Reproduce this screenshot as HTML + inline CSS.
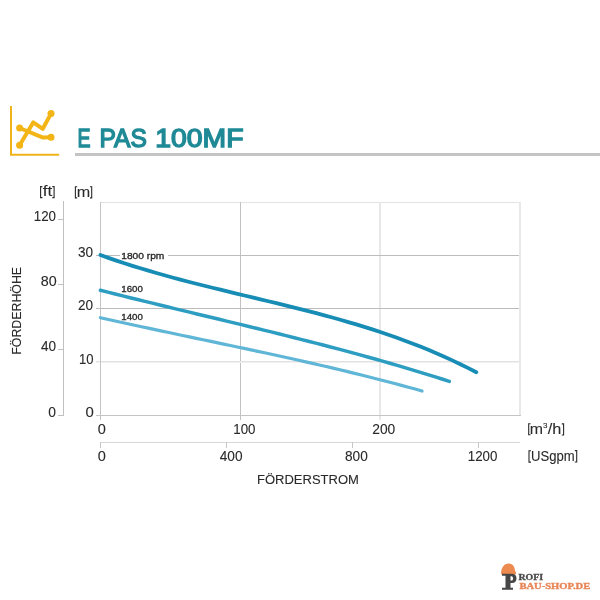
<!DOCTYPE html>
<html><head><meta charset="utf-8">
<style>
html,body{margin:0;padding:0;background:#fff;width:600px;height:600px;overflow:hidden;}
svg{position:absolute;left:0;top:0;will-change:transform;}
text{font-family:"Liberation Sans",sans-serif;}
</style></head><body>
<svg width="600" height="600" viewBox="0 0 600 600">
<g>
<g stroke="#F0B41A" fill="none" stroke-width="2" stroke-linejoin="miter">
<path d="M11 106 V154.7 H59.2"/>
</g>
<g stroke="#F3B515" fill="none" stroke-width="4" stroke-linejoin="round">
<path d="M19.6 145.2 L33.2 122.4 L42.8 128.8 L51 113.6"/>
<path d="M19.6 128 L43 137.6 L51 137.2"/>
</g>
<g fill="#F3B515">
<circle cx="19.6" cy="128" r="3.5"/><circle cx="19.6" cy="145.2" r="3.5"/>
<circle cx="51" cy="113.6" r="3.5"/><circle cx="51" cy="137.2" r="3.5"/>
</g>
<rect x="75" y="153" width="525" height="3" fill="#c4c4c4"/>
<g shape-rendering="crispEdges">
<rect x="100" y="202" width="420" height="1" fill="#e3e3e3"/>
<rect x="519" y="202" width="2" height="214" fill="#e8e8e8"/>
<rect x="379" y="202" width="2" height="218" fill="#e8e8e8"/>
<rect x="240" y="202" width="1" height="218" fill="#c2c2c2"/>
<rect x="96" y="255" width="423" height="1" fill="#bdbdbd"/>
<rect x="96" y="308" width="423" height="1" fill="#bcbcbc"/>
<rect x="96" y="361" width="423" height="1" fill="#e2e2e2"/>
<rect x="96" y="362" width="423" height="1" fill="#f0f0f0"/>
<rect x="96" y="415" width="425" height="1" fill="#c4c4c4"/>
<rect x="100" y="202" width="1" height="218" fill="#c4c4c4"/>
<rect x="63" y="201" width="1" height="215" fill="#c0c0c0"/>
<rect x="58" y="219" width="5" height="1" fill="#c0c0c0"/>
<rect x="58" y="284" width="5" height="1" fill="#c0c0c0"/>
<rect x="58" y="349" width="5" height="1" fill="#c0c0c0"/>
<rect x="58" y="415" width="5" height="1" fill="#c0c0c0"/>
<rect x="100" y="442" width="420" height="1" fill="#d8d8d8"/>
<rect x="100" y="442" width="1" height="6" fill="#c8c8c8"/>
<rect x="226" y="442" width="1" height="6" fill="#c8c8c8"/>
<rect x="352" y="442" width="1" height="6" fill="#c8c8c8"/>
<rect x="478" y="442" width="1" height="6" fill="#c8c8c8"/>
</g>
<rect x="120" y="250" width="48" height="11" fill="#fff"/>
<g fill="none" stroke-linecap="round" stroke-linejoin="round" transform="translate(0 0.3)">
<path d="M100.4 254.75 L108.4 257.59 L116.4 260.32 L124.4 262.97 L132.4 265.52 L140.4 268.00 L148.4 270.39 L156.4 272.72 L164.4 274.98 L172.4 277.17 L180.4 279.32 L188.4 281.42 L196.4 283.47 L204.4 285.48 L212.4 287.47 L220.4 289.42 L228.4 291.36 L236.4 293.28 L244.4 295.19 L252.4 297.10 L260.4 299.01 L268.4 300.93 L276.4 302.86 L284.4 304.81 L292.3 306.79 L300.3 308.79 L308.3 310.83 L316.3 312.91 L324.3 315.04 L332.3 317.22 L340.3 319.46 L348.3 321.77 L356.3 324.14 L364.3 326.59 L372.3 329.12 L380.3 331.73 L388.3 334.44 L396.3 337.24 L404.3 340.15 L412.3 343.17 L420.3 346.30 L428.3 349.56 L436.3 352.93 L444.3 356.44 L452.3 360.09 L460.3 363.88 L468.3 367.82 L476.3 371.91" stroke="#178CB4" stroke-width="3.8"/>
<path d="M100.4 289.91 L107.8 291.80 L115.2 293.68 L122.7 295.54 L130.1 297.39 L137.5 299.22 L144.9 301.05 L152.4 302.87 L159.8 304.68 L167.2 306.48 L174.6 308.28 L182.1 310.07 L189.5 311.86 L196.9 313.64 L204.3 315.43 L211.8 317.21 L219.2 319.00 L226.6 320.79 L234.0 322.58 L241.4 324.37 L248.9 326.17 L256.3 327.98 L263.7 329.80 L271.1 331.62 L278.6 333.46 L286.0 335.30 L293.4 337.16 L300.8 339.03 L308.3 340.92 L315.7 342.82 L323.1 344.74 L330.5 346.68 L337.9 348.63 L345.4 350.61 L352.8 352.61 L360.2 354.63 L367.6 356.68 L375.1 358.75 L382.5 360.84 L389.9 362.97 L397.3 365.12 L404.8 367.30 L412.2 369.52 L419.6 371.76 L427.0 374.04 L434.5 376.35 L441.9 378.70 L449.3 381.08" stroke="#2E9DC2" stroke-width="3.5"/>
<path d="M100.4 317.39 L107.2 318.92 L114.1 320.44 L120.9 321.95 L127.8 323.45 L134.6 324.94 L141.5 326.41 L148.3 327.88 L155.1 329.34 L162.0 330.80 L168.8 332.25 L175.7 333.69 L182.5 335.14 L189.4 336.58 L196.2 338.01 L203.0 339.45 L209.9 340.88 L216.7 342.32 L223.6 343.76 L230.4 345.20 L237.3 346.65 L244.1 348.10 L250.9 349.56 L257.8 351.02 L264.6 352.49 L271.5 353.98 L278.3 355.47 L285.1 356.97 L292.0 358.48 L298.8 360.00 L305.7 361.54 L312.5 363.10 L319.4 364.66 L326.2 366.25 L333.0 367.85 L339.9 369.47 L346.7 371.11 L353.6 372.77 L360.4 374.45 L367.3 376.15 L374.1 377.88 L380.9 379.63 L387.8 381.40 L394.6 383.21 L401.5 385.03 L408.3 386.89 L415.2 388.77 L422.0 390.69" stroke="#60B6D6" stroke-width="3.2"/>
</g>
<path fill="#EC8A50" d="M501 574.3 C501 567 504.5 563.4 508.5 563.4 C512.5 563.4 515 566.5 515 571 L516 572.3 V574.3 Z"/>
<path fill="#464646" fill-rule="evenodd" d="M502 573.8 H512 C515 573.8 516.5 575.8 516.5 578.4 C516.5 581 515 583 512 583 H510.5 V587.7 H513 V589.7 H502 V587.7 H505.5 V575.8 H502 Z M510.5 576.2 V580.6 H511.5 C512.6 580.6 513 579.6 513 578.4 C513 577.2 512.6 576.2 511.5 576.2 Z"/>
</g>
<g fill="none" stroke="#2a2a2a" stroke-width="1.1" stroke-linejoin="miter">
<path d="M42.4 186.6 H40.6 V197.6 H42.4"/>
<path d="M52.3 186.6 H54.1 V197.6 H52.3"/>
<path d="M77.2 186.8 H75.4 V197.9 H77.2"/>
<path d="M90 186.8 H91.7 V197.9 H90"/>
<path d="M530.5 423.7 H528.7 V434.8 H530.5"/>
<path d="M561.8 423.9 H563.6 V435 H561.8"/>
<path d="M531 450.7 H529 V462.1 H531"/>
<path d="M574.8 450.6 H576.7 V462 H574.8"/>
</g>
<g fill="#2a2a2a" stroke="#2a2a2a" stroke-width="0.1">
<text x="77.50" y="146.85" font-size="25.90" textLength="13.01" lengthAdjust="spacingAndGlyphs" fill="#1F8A96" stroke="#1F8A96" stroke-width="1.4">E</text>
<text x="99.50" y="146.60" font-size="25.90" textLength="47.42" lengthAdjust="spacingAndGlyphs" fill="#1F8A96" stroke="#1F8A96" stroke-width="1.4">PAS</text>
<text x="155.25" y="146.60" font-size="25.90" textLength="88.22" lengthAdjust="spacingAndGlyphs" fill="#1F8A96" stroke="#1F8A96" stroke-width="1.4">100MF</text>
<text x="42.70" y="196.25" font-size="13.80" textLength="9.52" lengthAdjust="spacingAndGlyphs">ft</text>
<text x="76.80" y="196.95" font-size="13.80" textLength="13.47" lengthAdjust="spacingAndGlyphs">m</text>
<text x="33.75" y="220.50" font-size="13.80" textLength="22.24" lengthAdjust="spacingAndGlyphs">120</text>
<text x="40.75" y="286.00" font-size="13.80" textLength="15.91" lengthAdjust="spacingAndGlyphs">80</text>
<text x="41.00" y="351.30" font-size="13.80" textLength="15.09" lengthAdjust="spacingAndGlyphs">40</text>
<text x="48.25" y="416.80" font-size="13.80" textLength="7.70" lengthAdjust="spacingAndGlyphs">0</text>
<text x="78.00" y="256.70" font-size="13.80" textLength="15.11" lengthAdjust="spacingAndGlyphs">30</text>
<text x="78.00" y="310.00" font-size="13.80" textLength="15.09" lengthAdjust="spacingAndGlyphs">20</text>
<text x="79.00" y="363.70" font-size="13.80" textLength="14.52" lengthAdjust="spacingAndGlyphs">10</text>
<text x="85.50" y="416.80" font-size="13.80" textLength="8.32" lengthAdjust="spacingAndGlyphs">0</text>
<text x="97.75" y="434.00" font-size="13.80" textLength="8.11" lengthAdjust="spacingAndGlyphs">0</text>
<text x="233.25" y="433.75" font-size="13.80" textLength="22.24" lengthAdjust="spacingAndGlyphs">100</text>
<text x="372.25" y="433.75" font-size="13.80" textLength="23.04" lengthAdjust="spacingAndGlyphs">200</text>
<text x="97.75" y="460.70" font-size="13.80" textLength="8.11" lengthAdjust="spacingAndGlyphs">0</text>
<text x="219.75" y="460.70" font-size="13.80" textLength="22.77" lengthAdjust="spacingAndGlyphs">400</text>
<text x="345.00" y="460.70" font-size="13.80" textLength="22.78" lengthAdjust="spacingAndGlyphs">800</text>
<text x="467.75" y="460.95" font-size="13.80" textLength="29.66" lengthAdjust="spacingAndGlyphs">1200</text>
<text x="529.80" y="433.90" font-size="14.00" textLength="13.26" lengthAdjust="spacingAndGlyphs">m</text>
<text x="542.95" y="427.70" font-size="7.74" textLength="4.47" lengthAdjust="spacingAndGlyphs">3</text>
<text x="547.80" y="434.00" font-size="14.00" textLength="13.61" lengthAdjust="spacingAndGlyphs">/h</text>
<text x="531.10" y="460.50" font-size="14.00" textLength="43.62" lengthAdjust="spacingAndGlyphs">USgpm</text>
<text x="257.00" y="483.80" font-size="13.60" textLength="101.90" lengthAdjust="spacingAndGlyphs">FÖRDERSTROM</text>
<text transform="translate(21.30 354.70) rotate(-90)" font-size="13.60" textLength="87.75" lengthAdjust="spacingAndGlyphs">FÖRDERHÖHE</text>
<text x="121.25" y="258.70" font-size="9.90" textLength="43.07" lengthAdjust="spacingAndGlyphs" stroke-width="0.35">1800 rpm</text>
<text x="121.25" y="291.60" font-size="9.90" textLength="21.57" lengthAdjust="spacingAndGlyphs" stroke-width="0.35">1600</text>
<text x="121.25" y="319.60" font-size="9.90" textLength="21.57" lengthAdjust="spacingAndGlyphs" stroke-width="0.35">1400</text>
<text x="518.45" y="579.65" font-size="7.40" textLength="24.71" lengthAdjust="spacingAndGlyphs" font-weight="bold" fill="#4a4a4a" stroke="#4a4a4a" stroke-width="0.3" style="font-family:'Liberation Serif'">ROFI</text>
<text x="519.40" y="588.50" font-size="8.60" textLength="70.90" lengthAdjust="spacingAndGlyphs" font-weight="bold" fill="#E8875A" stroke="#E8875A" stroke-width="0.35" style="font-family:'Liberation Serif'">BAU-SHOP.DE</text>
</g>
</svg>
</body></html>
